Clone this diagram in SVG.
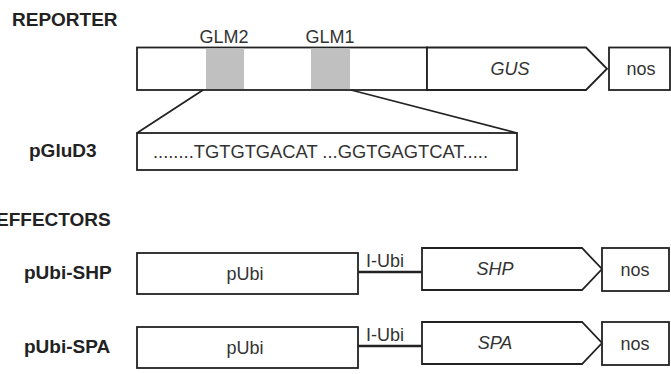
<svg xmlns="http://www.w3.org/2000/svg" width="671" height="374" viewBox="0 0 671 374">
<style>
  .box{fill:#fff;stroke:#222;stroke-width:1.8}
  .glm{fill:#c0c0c0;stroke:none}
  .lbl{font-family:"Liberation Sans",Arial,sans-serif;font-size:19px;font-weight:bold;fill:#222}
  .t{font-family:"Liberation Sans",Arial,sans-serif;font-size:18px;fill:#333}
  .i{font-style:italic}
  .c{text-anchor:middle}
  .ln{stroke:#222;stroke-width:1.8;fill:none}
  .lnk{stroke:#222;stroke-width:2.6;fill:none}
</style>
<text class="lbl" x="12" y="26">REPORTER</text>
<text class="lbl" x="-4" y="226">EFFECTORS</text>

<g id="reporter">
  <rect class="box" x="137" y="47.5" width="290" height="42.5"/>
  <rect class="glm" x="206" y="48.5" width="38" height="40.5"/>
  <rect class="glm" x="311" y="48.5" width="39" height="40.5"/>
  <text class="t c" x="224" y="43">GLM2</text>
  <text class="t c" x="330" y="43">GLM1</text>
</g>
<g id="gus">
  <polygon class="box" points="427,47.5 586,47.5 607,68.75 586,90 427,90"/>
  <text class="t i c" x="510" y="75">GUS</text>
</g>
<g id="nos1">
  <rect class="box" x="609" y="47.5" width="61" height="42.5"/>
  <text class="t c" x="641" y="75">nos</text>
</g>
<g id="pGluD3">
  <text class="lbl" x="29" y="157" font-size="19.5">pGluD3</text>
  <rect class="box" x="137" y="133" width="380" height="37"/>
  <text class="t" x="153" y="158" textLength="335" lengthAdjust="spacingAndGlyphs">........TGTGTGACAT ...GGTGAGTCAT.....</text>
</g>

<g id="row1">
  <text class="lbl" x="24" y="279" font-size="19.5">pUbi-SHP</text>
  <rect class="box" x="137" y="253" width="221" height="41"/>
  <text class="t c" x="245" y="280">pUbi</text>
  <text class="t" x="366" y="267">I-Ubi</text>
  <polygon class="box" points="422,248 582,248 602,269 582,290 422,290"/>
  <text class="t i c" x="495" y="275">SHP</text>
  <rect class="box" x="602" y="248" width="67" height="43"/>
  <text class="t c" x="635" y="276">nos</text>
</g>
<g id="row2">
  <text class="lbl" x="24" y="353" font-size="19.5">pUbi-SPA</text>
  <rect class="box" x="137" y="327" width="221" height="41"/>
  <text class="t c" x="245" y="354">pUbi</text>
  <text class="t" x="366" y="341">I-Ubi</text>
  <polygon class="box" points="422,322 582,322 602,343 582,364 422,364"/>
  <text class="t i c" x="495" y="349">SPA</text>
  <rect class="box" x="602" y="322" width="67" height="43"/>
  <text class="t c" x="635" y="350">nos</text>
</g>

<g id="connectors">
  <line class="ln" x1="203" y1="90" x2="137" y2="133"/>
  <line class="ln" x1="351" y1="90" x2="517" y2="133"/>
  <line class="lnk" x1="358" y1="272" x2="422" y2="272"/>
  <line class="lnk" x1="358" y1="346" x2="422" y2="346"/>
</g>
</svg>
